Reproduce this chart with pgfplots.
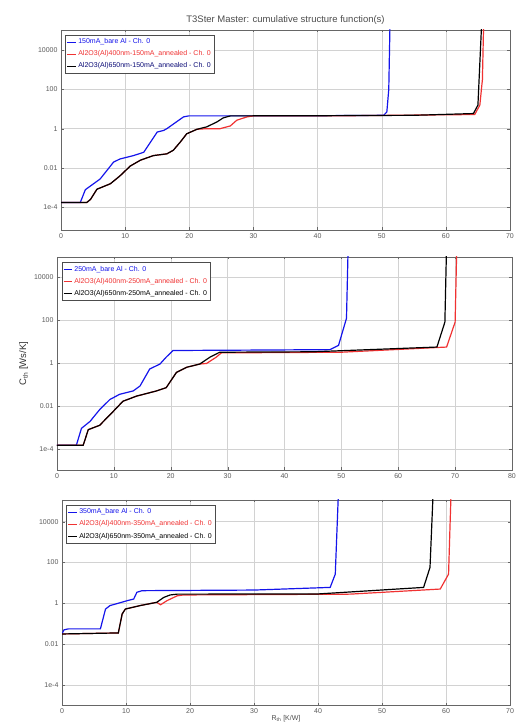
\documentclass[border=0pt]{standalone}
\usepackage{pgfplots}
\pgfplotsset{compat=1.18}
\usepackage{fontspec}
\setmainfont{Liberation Sans}
\definecolor{cblue}{RGB}{20,20,235}
\definecolor{cred}{RGB}{240,50,50}
\pgfplotsset{
  mypanel/.style={
    scale only axis, anchor=south west,
    /pgf/number format/assume math mode=true,
    tick label style={font=\fontsize{7}{8}\selectfont, text=black!65},
    ytick={1e-4,1e-2,1,1e2,1e4},
    yticklabels={1e-4,0.01,1,100,10000},
    yminorticks=false,
    tick align=inside,
    major tick length=2.5pt,
    grid=major,
    grid style={gray!35, line width=0.4pt},
    axis line style={black!60},
    tick style={black!60},
    legend style={at={(0.01,0.975)}, anchor=north west, font=\fontsize{7}{8}\selectfont, draw=black!70, inner sep=1.5pt, row sep=1.5pt},
    legend cell align=left,
    legend image code/.code={\draw[##1, line width=0.6pt] (0cm,0cm) -- (0.3cm,0cm);},
  },
}
\begin{document}
\begin{tikzpicture}
\useasboundingbox (0,0) rectangle (515pt,728pt);
% ---------- panel 1 ----------
\begin{axis}[mypanel, ymode=log, at={(61pt,498pt)}, width=449pt, height=200pt,
  xmin=0, xmax=70, xtick={0,10,...,70},
  ymin=7e-6, ymax=1.05e5,
  title={T3Ster Master: cumulative structure function(s)},
  title style={font=\fontsize{9.5}{10}\selectfont, text=black!70, yshift=-4pt}]
\addplot[cblue, line width=1.2pt] coordinates {(0,1.74e-4)(3,1.74e-4)(3.8,7.9e-4)(6.1,2.75e-3)(8.2,0.02)(9.2,0.0288)(11.3,0.0427)(12.9,0.063)(15,0.676)(16,0.813)(16.5,1)(19.1,3.98)(19.9,4.47)(30,4.47)(40,4.57)(50.3,4.79)(50.8,7.08)(51.1,100)(51.3,3.2e5)};
\addlegendentry{\textcolor{cblue}{150mA\_bare Al - Ch. 0}}
\addplot[cred, line width=1.2pt] coordinates {(0,1.74e-4)(4,1.74e-4)(4.6,2.51e-4)(5.6,8.3e-4)(7.7,1.58e-3)(9.2,3.98e-3)(10.8,0.0126)(12.4,0.0251)(14.4,0.0427)(16.5,0.0525)(17.5,0.0794)(18.6,0.209)(19.6,0.55)(21.2,0.933)(22.7,1.0)(24.8,1.0)(26.4,1.38)(27.4,2.69)(29,3.98)(30,4.47)(45,4.57)(64.5,5.25)(65.3,15.8)(65.7,316)(65.9,3.2e5)};
\addlegendentry{\textcolor{cred}{Al2O3(Al)400nm-150mA\_annealed - Ch. 0}}
\addplot[black, line width=1.2pt] coordinates {(0,1.74e-4)(4,1.74e-4)(4.6,2.51e-4)(5.6,8.3e-4)(7.7,1.58e-3)(9.2,3.98e-3)(10.8,0.0126)(12.4,0.0251)(14.4,0.0427)(16.5,0.0525)(17.5,0.0794)(18.6,0.209)(19.6,0.55)(21.2,0.933)(22.7,1.23)(24.3,2.19)(25.3,3.55)(26.4,4.47)(40,4.57)(55,4.79)(64.3,5.89)(65,15.8)(65.6,3.2e5)};
\addlegendentry{\textcolor{cblue!50!black}{Al2O3(Al)650nm-150mA\_annealed - Ch. 0}}
\end{axis}
% ---------- panel 2 ----------
\begin{axis}[mypanel, ymode=log, at={(57pt,258pt)}, width=455pt, height=213pt,
  xmin=0, xmax=80, xtick={0,10,...,80},
  ymin=1.05e-5, ymax=8.5e4,
  ylabel={C$_{\mathrm{th}}$ [Ws/K]},
  ylabel style={font=\fontsize{9.5}{10}\selectfont, text=black!80, yshift=-1pt}]
\addplot[cblue, line width=1.2pt] coordinates {(0,1.48e-4)(3.4,1.48e-4)(4.3,9.1e-4)(5.8,1.9e-3)(7.5,6.76e-3)(9.3,0.02)(11,0.0347)(13.4,0.05)(14.6,0.0851)(16.3,0.525)(18.1,0.891)(19.2,1.86)(20.4,3.8)(35,3.98)(48,4.17)(49.5,6.61)(50.9,120)(51.2,3.2e5)};
\addlegendentry{\textcolor{cblue}{250mA\_bare Al - Ch. 0}}
\addplot[cred, line width=1.2pt] coordinates {(0,1.48e-4)(4.6,1.48e-4)(5.5,7.9e-4)(7.5,1.26e-3)(9.9,5.62e-3)(11.6,0.0166)(14,0.0288)(17.5,0.05)(19.2,0.0708)(21,0.363)(22.8,0.631)(25.1,0.891)(26.3,0.95)(28,1.86)(28.9,2.95)(50,3.16)(68.5,5.5)(70,79.4)(70.3,3.2e5)};
\addlegendentry{\textcolor{cred}{Al2O3(Al)400nm-250mA\_annealed - Ch. 0}}
\addplot[black, line width=1.2pt] coordinates {(0,1.48e-4)(4.6,1.48e-4)(5.5,7.9e-4)(7.5,1.26e-3)(9.9,5.62e-3)(11.6,0.0166)(14,0.0288)(17.5,0.05)(19.2,0.0708)(21,0.363)(22.8,0.631)(25.1,0.891)(26.9,1.86)(28.6,3.16)(45,3.31)(66.8,5.5)(68.2,79.4)(68.5,3.2e5)};
\addlegendentry{\textcolor{black}{Al2O3(Al)650nm-250mA\_annealed - Ch. 0}}
\end{axis}
% ---------- panel 3 ----------
\begin{axis}[mypanel, ymode=log, at={(62pt,23pt)}, width=448pt, height=205pt,
  xmin=0, xmax=70, xtick={0,10,...,70},
  ymin=1.05e-5, ymax=1.15e5,
  xlabel={R$_{\mathrm{th}}$ [K/W]},
  xlabel style={font=\fontsize{7}{8}\selectfont, text=black!70, yshift=5pt}]
\addplot[cblue, line width=1.2pt] coordinates {(0,0.0316)(0.3,0.05)(1,0.0562)(6,0.0562)(6.8,0.525)(7.5,0.776)(10.2,1.35)(11.2,1.62)(11.7,3.47)(12.5,4.17)(30,4.47)(41.9,6.03)(42.7,26.9)(43.2,3.2e5)};
\addlegendentry{\textcolor{cblue}{350mA\_bare Al - Ch. 0}}
\addplot[cred, line width=1.2pt] coordinates {(0,0.0316)(8.8,0.0355)(9.4,0.302)(9.9,0.525)(12.2,0.776)(14.8,1.12)(15.4,0.851)(16.4,1.35)(18,2.34)(19,2.57)(45,2.82)(59.1,5.01)(60.4,26.9)(60.6,3162)(60.8,3.2e5)};
\addlegendentry{\textcolor{cred}{Al2O3(Al)400nm-350mA\_annealed - Ch. 0}}
\addplot[black, line width=1.2pt] coordinates {(0,0.0316)(8.8,0.0355)(9.4,0.302)(9.9,0.525)(12.2,0.776)(14.8,1.12)(15.9,1.95)(16.9,2.57)(18,2.82)(40,2.88)(56.5,6.03)(57.5,57.5)(58,3.2e5)};
\addlegendentry{\textcolor{black}{Al2O3(Al)650nm-350mA\_annealed - Ch. 0}}
\end{axis}
\end{tikzpicture}
\end{document}
